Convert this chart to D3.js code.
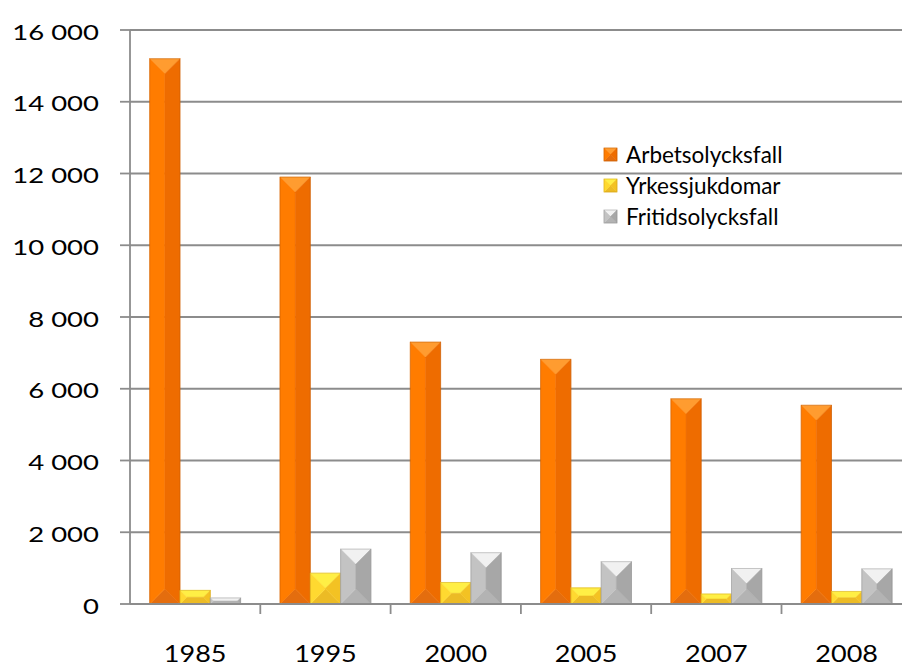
<!DOCTYPE html>
<html>
<head>
<meta charset="utf-8">
<script src="https://cdn.jsdelivr.net/npm/d3@7"></script>
<style>
  body { margin: 0; background: #fff; }
  svg { display: block; }
</style>
</head>
<body>
<div id="chart"></div>
<script>

// data
var years = ["1985", "1995", "2000", "2005", "2007", "2008"];
var arbetsolycksfall = [15200, 11900, 7300, 6820, 5720, 5540];
var yrkessjukdomar = [380, 860, 600, 450, 280, 350];
var fritidsolycksfall = [170, 1530, 1430, 1180, 990, 980];
var seriesNames = ["Arbetsolycksfall", "Yrkessjukdomar", "Fritidsolycksfall"];
var yTicks = [0, 2000, 4000, 6000, 8000, 10000, 12000, 14000, 16000];

var seriesValues = [arbetsolycksfall, yrkessjukdomar, fritidsolycksfall];

// face colours: top, left, right, bottom
var faces = [
    { top: "#ff9c30", left: "#ff7c00", right: "#ee6c00", bottom: "#e46d0e", edge: "#b85400" },
    { top: "#ffef45", left: "#ffd930", right: "#f3c223", bottom: "#ecbb25", edge: "#c99a10" },
    { top: "#f1f1f1", left: "#c3c3c3", right: "#a7a7a7", bottom: "#b3b3b3", edge: "#8a8a8a" }
];

var W = 902, H = 666;
var plotLeft = 130, plotBottom = 604, plotTop = 30;

var svg = d3.select("#chart")
    .append("svg")
    .attr("width", W)
    .attr("height", H);

var x0 = d3.scaleBand()
    .domain(years)
    .range([plotLeft, plotLeft + 6 * 130.3]);

var x1 = d3.scaleBand()
    .domain(seriesNames)
    .range([0, x0.bandwidth()])
    .paddingOuter(0.65);

var y = d3.scaleLinear()
    .domain([0, 16000])
    .range([plotBottom, plotTop]);

var fmt = d3.formatLocale({ decimal: ",", thousands: " ", grouping: [3], currency: ["", ""] }).format(",");

// gridlines
svg.append("g")
    .selectAll("line")
    .data(yTicks.slice(1))
    .enter().append("line")
    .attr("x1", plotLeft).attr("x2", W)
    .attr("y1", d => y(d)).attr("y2", d => y(d))
    .style("stroke", "#8c8c8c")
    .style("stroke-width", 1.8);

// y axis
var yAxis = svg.append("g");
yAxis.append("line")
    .attr("x1", plotLeft).attr("x2", plotLeft)
    .attr("y1", y(16000)).attr("y2", plotBottom)
    .style("stroke", "#8c8c8c").style("stroke-width", 1.8);
yAxis.selectAll(".ytick")
    .data(yTicks)
    .enter().append("line")
    .attr("class", "ytick")
    .attr("x1", plotLeft - 10).attr("x2", plotLeft)
    .attr("y1", d => y(d)).attr("y2", d => y(d))
    .style("stroke", "#8c8c8c").style("stroke-width", 1.8);
yAxis.selectAll("text")
    .data(yTicks)
    .enter().append("text")
    .attr("transform", d => "translate(99," + (y(d) + 9.5) + ") scale(1.25,1)")
    .attr("text-anchor", "end")
    .style("font-family", "Lato, 'Open Sans', sans-serif")
    .style("font-size", "22px")
    .style("fill", "#000")
    .text(d => fmt(d));

// bars, drawn as four bevelled faces
function bevel(g, x, yTop, w, h, c) {
    var d = Math.min(w, h) / 2;
    var x2 = x + w, y2 = yTop + h;
    var polys = [
        [[x, yTop], [x2, yTop], [x2 - d, yTop + d], [x + d, yTop + d], c.top],
        [[x, y2], [x2, y2], [x2 - d, y2 - d], [x + d, y2 - d], c.bottom],
        [[x, yTop], [x + d, yTop + d], [x + d, y2 - d], [x, y2], c.left],
        [[x2, yTop], [x2 - d, yTop + d], [x2 - d, y2 - d], [x2, y2], c.right]
    ];
    polys.forEach(function (p) {
        g.append("polygon")
            .attr("points", p.slice(0, 4).map(q => q.join(",")).join(" "))
            .style("fill", p[4])
            .style("stroke", p[4])
            .style("stroke-width", 0.5);
    });
    g.append("rect")
        .attr("x", x).attr("y", yTop)
        .attr("width", w).attr("height", h)
        .style("fill", "none")
        .style("stroke", c.edge)
        .style("stroke-opacity", 0.45)
        .style("stroke-width", 1);
}

var barData = [];
years.forEach(function (yr, i) {
    seriesNames.forEach(function (s, j) {
        barData.push({ year: yr, series: s, idx: j, value: seriesValues[j][i] });
    });
});

var bars = svg.append("g");
barData.forEach(function (d) {
    var bx = x0(d.year) + x1(d.series);
    var by = y(d.value);
    bevel(bars.append("g"), bx, by, x1.bandwidth(), plotBottom - by, faces[d.idx]);
});

// x axis
var xAxis = svg.append("g");
xAxis.append("line")
    .attr("x1", plotLeft).attr("x2", W)
    .attr("y1", plotBottom).attr("y2", plotBottom)
    .style("stroke", "#8c8c8c").style("stroke-width", 1.8);
xAxis.selectAll(".xtick")
    .data(years.slice(1))
    .enter().append("line")
    .attr("class", "xtick")
    .attr("x1", d => x0(d)).attr("x2", d => x0(d))
    .attr("y1", plotBottom).attr("y2", plotBottom + 10)
    .style("stroke", "#8c8c8c").style("stroke-width", 1.8);
xAxis.selectAll("text")
    .data(years)
    .enter().append("text")
    .attr("transform", d => "translate(" + (x0(d) + x0.bandwidth() / 2) + ",662) scale(1.2,1)")
    .attr("text-anchor", "middle")
    .style("font-family", "Lato, 'Open Sans', sans-serif")
    .style("font-size", "22.5px")
    .style("fill", "#000")
    .text(d => d);

// legend
var legend = svg.append("g");
seriesNames.forEach(function (s, j) {
    var ly = 148 + j * 31;
    bevel(legend.append("g"), 604, ly, 13, 13, faces[j]);
    legend.append("text")
        .attr("x", 626)
        .attr("y", ly + 15)
        .style("font-family", "Lato, sans-serif")
        .style("font-size", "22.5px")
        .style("fill", "#000")
        .text(s);
});

</script>
</body>
</html>
